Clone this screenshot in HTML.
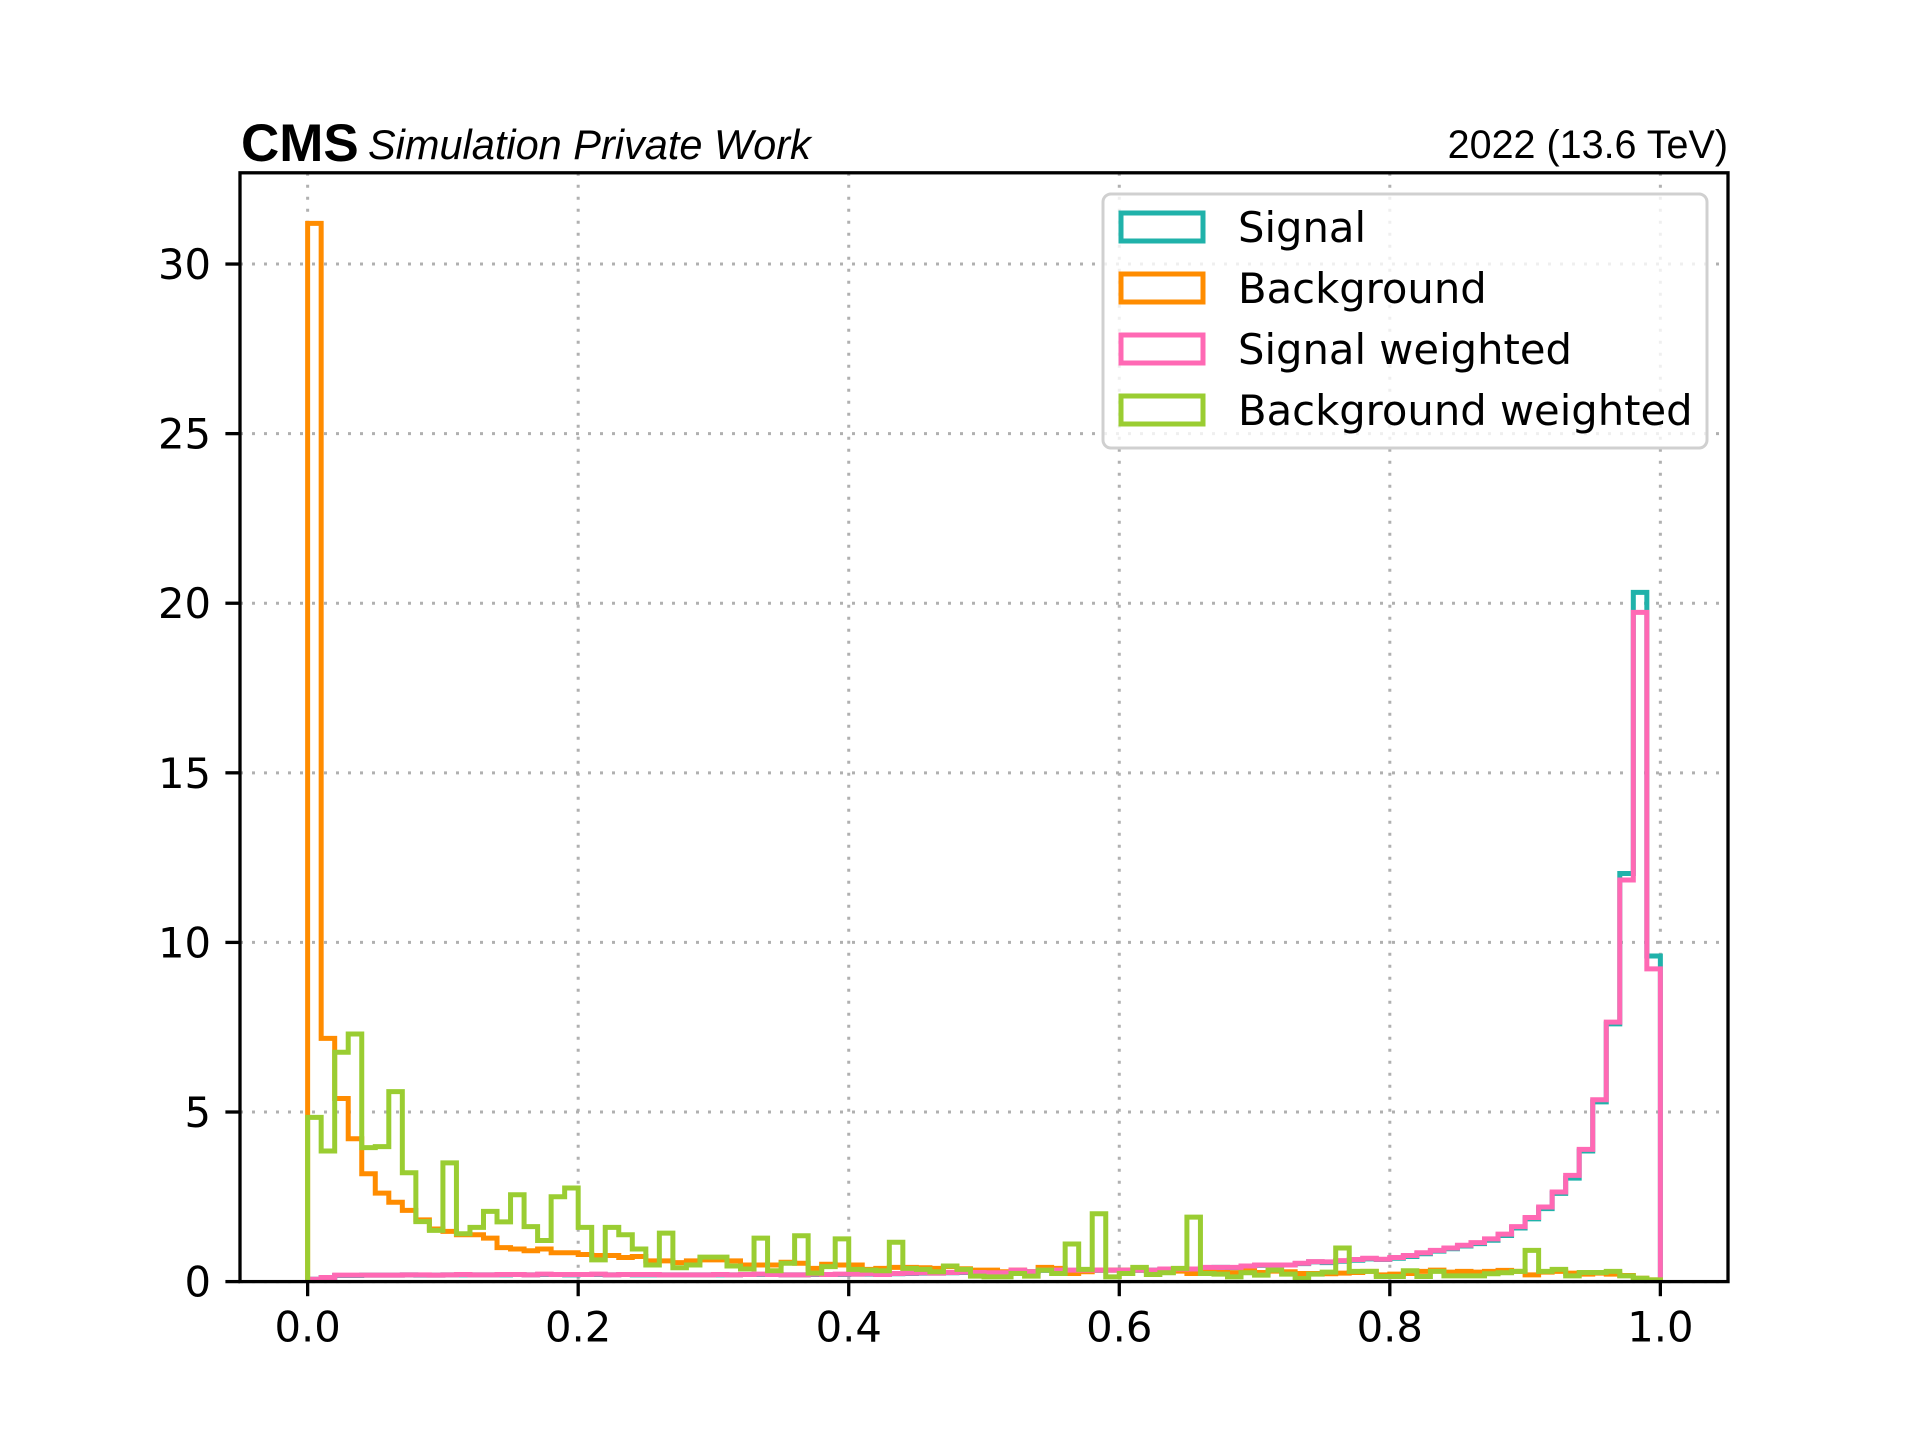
<!DOCTYPE html>
<html><head><meta charset="utf-8"><style>
html,body{margin:0;padding:0;background:#fff;}
svg{display:block;}
text{font-family:"DejaVu Sans",sans-serif;}
</style></head><body>
<svg id="chart" width="1920" height="1440" viewBox="0 0 1920 1440" xmlns="http://www.w3.org/2000/svg">
<rect x="0" y="0" width="1920" height="1440" fill="#fff"/>
<g id="grid"></g>
<g id="series"></g>
<rect x="240" y="172.8" width="1488" height="1108.8" fill="none" stroke="#000" stroke-width="3.3"/>
<g id="ticks"></g>
<text x="241" y="161" style="font-family:'Liberation Sans',sans-serif;font-weight:bold;font-size:53px;">CMS</text>
<text x="368" y="159" style="font-family:'Liberation Sans',sans-serif;font-style:italic;font-size:41.5px;">Simulation Private Work</text>
<text x="1728" y="158" text-anchor="end" style="font-family:'Liberation Sans',sans-serif;font-size:39.5px;">2022 (13.6 TeV)</text>
<g>
<rect x="1103" y="194" width="604" height="254" rx="8" fill="#fff" fill-opacity="0.8" stroke="#d0d0d0" stroke-width="3"/>
<rect x="1121" y="213" width="82" height="28" fill="none" stroke="#20b2aa" stroke-width="5"/>
<text x="1238" y="242" font-size="41.7">Signal</text>
<rect x="1121" y="274" width="82" height="28" fill="none" stroke="#ff8c00" stroke-width="5"/>
<text x="1238" y="303" font-size="41.7">Background</text>
<rect x="1121" y="335" width="82" height="28" fill="none" stroke="#ff69b4" stroke-width="5"/>
<text x="1238" y="364" font-size="41.7">Signal weighted</text>
<rect x="1121" y="396" width="82" height="28" fill="none" stroke="#9acd32" stroke-width="5"/>
<text x="1238" y="425" font-size="41.7">Background weighted</text>
</g>
</svg>
<script>
const xTicks = [0, 0.2, 0.4, 0.6, 0.8, 1.0];
const xTickLabels = ["0.0", "0.2", "0.4", "0.6", "0.8", "1.0"];
const yTicks = [0, 5, 10, 15, 20, 25, 30];
const yTickLabels = ["0", "5", "10", "15", "20", "25", "30"];
const binLo = 0, binHi = 1, nBins = 100;
const signal = [0.07,0.12,0.18,0.18,0.19,0.19,0.19,0.2,0.19,0.19,0.2,0.2,0.2,0.2,0.2,0.21,0.2,0.21,0.21,0.2,0.21,0.21,0.2,0.21,0.2,
0.2,0.2,0.2,0.2,0.2,0.2,0.2,0.21,0.21,0.21,0.2,0.2,0.21,0.21,0.21,0.22,0.22,0.21,0.23,0.24,0.25,0.25,0.26,0.27,0.27,
0.26,0.26,0.33,0.29,0.33,0.34,0.33,0.34,0.33,0.34,0.34,0.33,0.34,0.36,0.36,0.37,0.41,0.42,0.41,0.45,0.48,0.48,0.49,0.53,0.58,
0.56,0.6,0.63,0.67,0.65,0.69,0.74,0.82,0.9,0.97,1.05,1.12,1.22,1.36,1.58,1.85,2.15,2.6,3.05,3.85,5.3,7.6,12.03,20.32,9.6];
const background = [31.2,7.17,5.4,4.21,3.18,2.61,2.34,2.1,1.82,1.55,1.48,1.38,1.38,1.28,1.0,0.96,0.91,0.96,0.85,0.85,0.8,0.77,0.77,0.71,0.74,
0.61,0.61,0.56,0.61,0.64,0.64,0.61,0.49,0.49,0.49,0.57,0.54,0.39,0.51,0.49,0.49,0.36,0.39,0.42,0.42,0.41,0.39,0.44,0.38,0.34,
0.34,0.29,0.34,0.29,0.42,0.39,0.24,0.29,0.34,0.34,0.34,0.34,0.31,0.31,0.31,0.24,0.33,0.27,0.26,0.33,0.27,0.31,0.29,0.24,0.24,
0.23,0.25,0.27,0.3,0.2,0.22,0.24,0.3,0.34,0.28,0.3,0.28,0.3,0.33,0.3,0.2,0.28,0.3,0.25,0.22,0.25,0.22,0.18,0.1,0.05];
const signalWeighted = [0.07,0.12,0.19,0.19,0.19,0.19,0.19,0.2,0.2,0.19,0.2,0.21,0.2,0.2,0.21,0.21,0.2,0.22,0.21,0.21,0.21,0.22,0.2,0.21,0.21,
0.21,0.2,0.2,0.2,0.2,0.21,0.2,0.21,0.22,0.21,0.2,0.2,0.22,0.21,0.22,0.22,0.23,0.21,0.24,0.25,0.26,0.25,0.27,0.28,0.27,
0.26,0.26,0.34,0.29,0.34,0.34,0.34,0.34,0.34,0.34,0.34,0.34,0.34,0.37,0.37,0.37,0.42,0.42,0.42,0.46,0.49,0.49,0.49,0.54,0.59,
0.58,0.62,0.65,0.69,0.66,0.71,0.77,0.85,0.92,0.99,1.07,1.15,1.26,1.4,1.62,1.89,2.2,2.64,3.13,3.9,5.36,7.65,11.84,19.73,9.22];
const backgroundWeighted = [4.84,3.85,6.76,7.30,3.95,3.98,5.6,3.21,1.77,1.51,3.5,1.41,1.6,2.07,1.76,2.56,1.62,1.21,2.5,2.76,1.6,0.64,1.6,1.38,0.96,
0.49,1.43,0.41,0.49,0.72,0.72,0.46,0.37,1.28,0.32,0.54,1.35,0.25,0.44,1.26,0.36,0.34,0.32,1.16,0.39,0.36,0.29,0.46,0.36,0.16,
0.14,0.14,0.24,0.16,0.34,0.24,1.11,0.36,2.0,0.14,0.24,0.42,0.21,0.26,0.39,1.9,0.24,0.22,0.14,0.26,0.19,0.34,0.22,0.09,0.22,
0.28,0.99,0.30,0.30,0.15,0.15,0.32,0.15,0.30,0.17,0.17,0.17,0.23,0.26,0.30,0.92,0.30,0.36,0.17,0.27,0.27,0.30,0.17,0.10,0.05];

const NS = "http://www.w3.org/2000/svg";
const AX = {l:240, r:1728, t:172.8, b:1281.6};
const xMin = -0.05, xMax = 1.05, yMin = 0, yMax = 32.69;
function sx(v){ return AX.l + (v - xMin) / (xMax - xMin) * (AX.r - AX.l); }
function sy(v){ return AX.b - (v - yMin) / (yMax - yMin) * (AX.b - AX.t); }
function mk(tag, attrs, parent){
  const e = document.createElementNS(NS, tag);
  for (const k in attrs) e.setAttribute(k, attrs[k]);
  parent.appendChild(e);
  return e;
}
const grid = document.getElementById('grid');
const ticks = document.getElementById('ticks');
xTicks.forEach((v, i) => {
  const g = mk('line', {x1:sx(v), x2:sx(v), y1:AX.t, y2:AX.b, stroke:'#b0b0b0', 'stroke-width':3, 'stroke-dasharray':'3,9'}, grid);
  
  
  const t = mk('line', {x1:sx(v), x2:sx(v), y1:AX.b, y2:AX.b + 14.6, stroke:'#000', 'stroke-width':3.3}, ticks);
  
  
  const lb = mk('text', {x:sx(v), y:AX.b + 60, 'text-anchor':'middle', 'font-size':41.7}, ticks);
  lb.textContent = xTickLabels[i];
  
  
});
yTicks.forEach((v, i) => {
  const g = mk('line', {x1:AX.l, x2:AX.r, y1:sy(v), y2:sy(v), stroke:'#b0b0b0', 'stroke-width':3, 'stroke-dasharray':'3,9'}, grid);
  
  
  const t = mk('line', {x1:AX.l - 14.6, x2:AX.l, y1:sy(v), y2:sy(v), stroke:'#000', 'stroke-width':3.3}, ticks);
  
  
  const lb = mk('text', {x:AX.l - 29, y:sy(v) + 15, 'text-anchor':'end', 'font-size':41.7}, ticks);
  lb.textContent = yTickLabels[i];
  
  
});
function stepPath(vals){
  const w = (binHi - binLo) / nBins;
  let d = 'M' + sx(binLo) + ',' + sy(0);
  vals.forEach((v, i) => {
    const x0 = sx(binLo + i * w), x1 = sx(binLo + (i + 1) * w);
    d += ' L' + x0 + ',' + sy(v) + ' L' + x1 + ',' + sy(v);
  });
  d += ' L' + sx(binHi) + ',' + sy(0);
  return d;
}
const series = document.getElementById('series');
const s1 = mk('path', {d:stepPath(signal), fill:'none', stroke:'#20b2aa', 'stroke-width':5, 'stroke-linejoin':'miter'}, series);


const s2 = mk('path', {d:stepPath(background), fill:'none', stroke:'#ff8c00', 'stroke-width':5, 'stroke-linejoin':'miter'}, series);


const s3 = mk('path', {d:stepPath(signalWeighted), fill:'none', stroke:'#ff69b4', 'stroke-width':5, 'stroke-linejoin':'miter'}, series);


const s4 = mk('path', {d:stepPath(backgroundWeighted), fill:'none', stroke:'#9acd32', 'stroke-width':5, 'stroke-linejoin':'miter'}, series);


</script>
</body></html>
